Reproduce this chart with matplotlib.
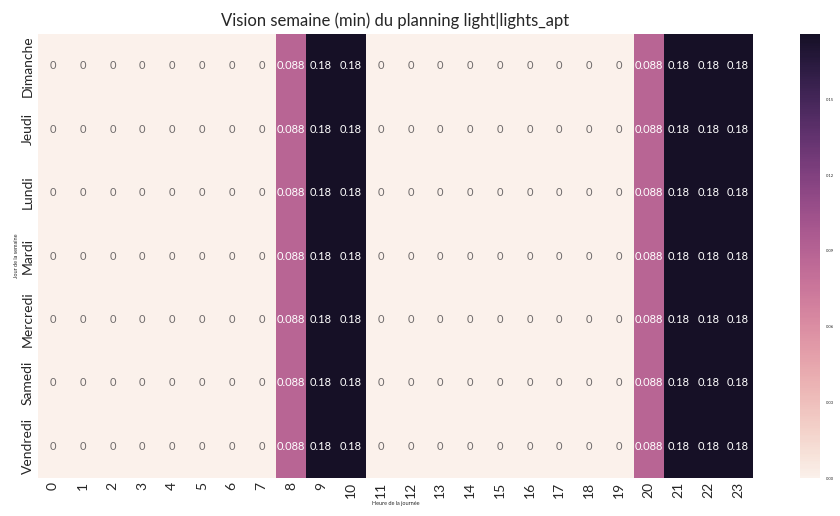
import matplotlib
matplotlib.use("Agg")
import matplotlib.pyplot as plt
import numpy as np
import pandas as pd
import seaborn as sns

days = ["Dimanche", "Jeudi", "Lundi", "Mardi", "Mercredi", "Samedi", "Vendredi"]
hours = list(range(24))
# minutes per hour slot (same for every day)
hour_values = [0, 0, 0, 0, 0, 0, 0, 0, 0.088, 0.176, 0.176, 0, 0, 0, 0, 0,
               0, 0, 0, 0, 0.088, 0.176, 0.176, 0.176]

data = pd.DataFrame([hour_values for _ in days], index=days, columns=hours)

sns.set_style("white")
plt.rcParams["font.family"] = ["Lato", "DejaVu Sans"]

fig = plt.figure(figsize=(8.4, 5.16), dpi=100)
ax = fig.add_axes([38 / 840, 1 - 478 / 516, 715 / 840, 444 / 516])
cax = fig.add_axes([800 / 840, 1 - 478 / 516, 20 / 840, 444 / 516])

cmap = sns.cubehelix_palette(light=.95, dark=.08, hue=1.0, as_cmap=True)
sns.heatmap(data, ax=ax, cbar_ax=cax, cmap=cmap, annot=True, fmt=".2g",
            annot_kws={"fontsize": 8})

# zeros look a bit washed out in the original
for t in ax.texts:
    if t.get_text() == "0":
        t.set_color("#6e6a6a")

ax.set_title("Vision semaine (min) du planning light|lights_apt", fontsize=12, pad=6)
ax.set_xlabel("Heure de la journée", fontsize=4, labelpad=2)
ax.set_ylabel("Jour de la semaine", fontsize=4, labelpad=2)
ax.set_xticklabels(hours, rotation=90, fontsize=10)
ax.set_yticklabels(days, rotation=90, va="center", fontsize=10)
ax.tick_params(length=0, pad=3)

cax.set_yticks([0.0, 0.03, 0.06, 0.09, 0.12, 0.15])
cax.set_yticklabels(["0.00", "0.03", "0.06", "0.09", "0.12", "0.15"], fontsize=3)
cax.tick_params(length=0, pad=4)
for s in cax.spines.values():
    s.set_visible(False)

fig.savefig("out.png", dpi=100)
